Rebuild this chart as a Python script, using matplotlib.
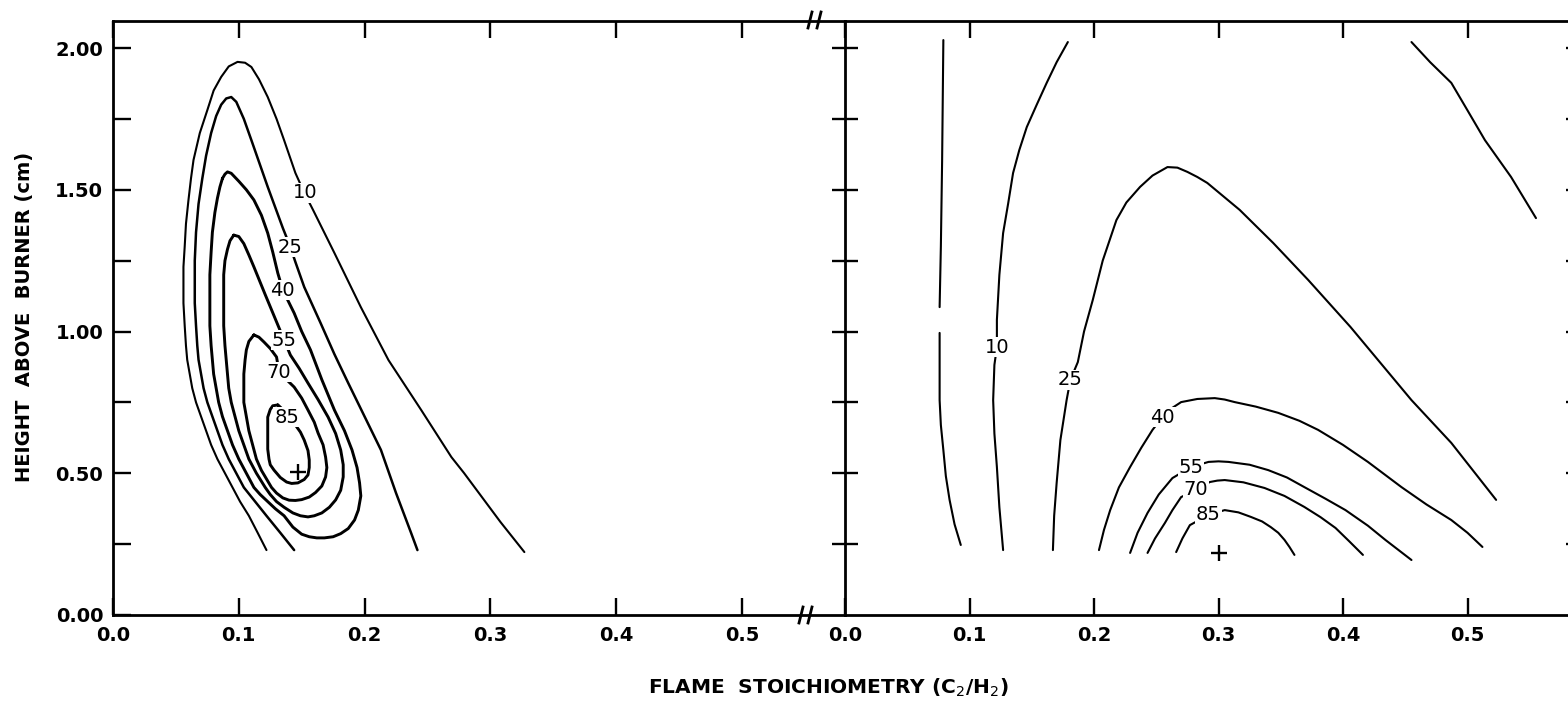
import matplotlib
matplotlib.use("Agg")
import matplotlib.pyplot as plt
from matplotlib.lines import Line2D

plt.rcParams['font.family'] = ['DejaVu Sans']

# ---------------- data ----------------
x_ticks = [0.0, 0.1, 0.2, 0.3, 0.4, 0.5]
x_ticklabels = ["0.0", "0.1", "0.2", "0.3", "0.4", "0.5"]
y_major = [0.0, 0.5, 1.0, 1.5, 2.0]
y_major_labels = ["0.00", "0.50", "1.00", "1.50", "2.00"]
y_minor = [0.25, 0.75, 1.25, 1.75]

# left panel contours (x = C2/H2, y = height cm)
L10 = [(0.122,0.229),(0.115,0.29),(0.108,0.35),(0.101,0.40),(0.095,0.45),(0.089,0.50),(0.083,0.55),
       (0.078,0.60),(0.074,0.65),(0.070,0.70),(0.066,0.75),(0.063,0.80),(0.061,0.85),(0.059,0.90),
       (0.058,0.95),(0.057,1.02),(0.056,1.10),(0.056,1.17),(0.056,1.228),(0.057,1.30),(0.058,1.38),
       (0.060,1.464),(0.062,1.54),(0.064,1.605),(0.069,1.70),(0.075,1.781),(0.080,1.85),(0.086,1.898),
       (0.092,1.935),(0.099,1.951),(0.105,1.948),(0.110,1.933),(0.116,1.89),(0.123,1.827),(0.130,1.75),
       (0.136,1.675),(0.145,1.559),(0.152,1.49),(0.159,1.429),(0.176,1.277),(0.197,1.086),(0.219,0.899),
       (0.245,0.723),(0.269,0.557),(0.279,0.501),(0.308,0.328),(0.327,0.222)]
L25 = [(0.144,0.229),(0.133,0.29),(0.122,0.35),(0.113,0.40),(0.104,0.45),(0.098,0.50),(0.092,0.55),
       (0.087,0.60),(0.083,0.65),(0.079,0.70),(0.075,0.75),(0.072,0.80),(0.070,0.85),(0.068,0.90),
       (0.067,0.95),(0.066,1.02),(0.065,1.10),(0.065,1.18),(0.065,1.25),(0.066,1.35),(0.068,1.45),
       (0.071,1.54),(0.074,1.62),(0.078,1.70),(0.082,1.76),(0.086,1.80),(0.090,1.822),(0.094,1.827),
       (0.098,1.81),(0.104,1.75),(0.110,1.675),(0.123,1.510),(0.135,1.365),(0.141,1.298),(0.145,1.245),
       (0.152,1.157),(0.165,1.030),(0.176,0.92),(0.187,0.818),(0.200,0.70),(0.213,0.582),(0.225,0.43),
       (0.237,0.289),(0.242,0.229)]
L40 = [(0.087,1.54),(0.089,1.555),(0.091,1.563),(0.094,1.558),(0.100,1.53),(0.106,1.50),(0.112,1.464),
       (0.118,1.41),(0.123,1.347),(0.127,1.28),(0.131,1.206),(0.135,1.146),(0.144,1.065),(0.150,1.00),
       (0.157,0.935),(0.166,0.83),(0.176,0.723),(0.184,0.65),(0.190,0.582),(0.194,0.52),(0.196,0.466),
       (0.197,0.42),(0.195,0.370),(0.192,0.335),(0.187,0.305),(0.181,0.287),(0.175,0.276),(0.168,0.272),
       (0.162,0.272),(0.156,0.276),(0.150,0.285),(0.143,0.31),(0.136,0.35),(0.129,0.375),(0.123,0.40),
       (0.117,0.425),(0.112,0.45),(0.106,0.50),(0.100,0.55),(0.095,0.60),(0.091,0.65),(0.087,0.70),
       (0.084,0.75),(0.082,0.80),(0.080,0.85),(0.079,0.90),(0.078,0.95),(0.077,1.02),(0.077,1.10),
       (0.077,1.20),(0.078,1.28),(0.079,1.35),(0.081,1.42),(0.083,1.47),(0.085,1.51),(0.087,1.54)]
L55 = [(0.096,1.340),(0.100,1.335),(0.104,1.31),(0.108,1.27),(0.112,1.228),(0.121,1.13),(0.130,1.034),
       (0.136,0.970),(0.141,0.917),(0.148,0.87),(0.155,0.818),(0.163,0.76),(0.171,0.698),(0.177,0.64),
       (0.181,0.582),(0.183,0.53),(0.183,0.487),(0.181,0.44),(0.177,0.406),(0.172,0.38),(0.166,0.360),
       (0.160,0.35),(0.155,0.346),(0.149,0.35),(0.143,0.36),(0.136,0.38),(0.130,0.40),(0.125,0.425),
       (0.121,0.45),(0.114,0.50),(0.108,0.55),(0.104,0.60),(0.100,0.65),(0.097,0.70),(0.094,0.75),
       (0.092,0.80),(0.091,0.85),(0.090,0.90),(0.089,0.95),(0.088,1.02),(0.088,1.10),(0.088,1.20),
       (0.089,1.25),(0.091,1.29),(0.093,1.32),(0.096,1.340)]
L70 = [(0.112,0.988),(0.116,0.980),(0.120,0.963),(0.125,0.94),(0.130,0.910),(0.132,0.857),(0.138,0.83),
       (0.144,0.804),(0.150,0.765),(0.155,0.723),(0.160,0.68),(0.163,0.642),(0.167,0.60),(0.169,0.557),
       (0.170,0.52),(0.169,0.487),(0.166,0.455),(0.161,0.432),(0.156,0.416),(0.150,0.407),(0.145,0.404),
       (0.140,0.405),(0.135,0.413),(0.130,0.43),(0.126,0.45),(0.122,0.48),(0.118,0.51),(0.114,0.55),
       (0.111,0.60),(0.108,0.65),(0.106,0.70),(0.104,0.75),(0.104,0.80),(0.104,0.85),(0.105,0.90),
       (0.106,0.935),(0.108,0.965),(0.112,0.988)]
L85 = [(0.131,0.741),(0.135,0.725),(0.138,0.70),(0.142,0.685),(0.145,0.670),(0.149,0.645),(0.152,0.617),
       (0.155,0.58),(0.156,0.547),(0.156,0.52),(0.155,0.494),(0.152,0.478),(0.147,0.466),(0.142,0.464),
       (0.138,0.469),(0.133,0.485),(0.128,0.511),(0.125,0.53),(0.124,0.55),(0.123,0.585),(0.123,0.62),
       (0.123,0.66),(0.123,0.698),(0.125,0.725),(0.127,0.738),(0.131,0.741)]
left_levels = ["10", "25", "40", "55", "70", "85"]
left_label_pos = [(0.153,1.489),(0.141,1.298),(0.135,1.146),(0.136,0.970),(0.132,0.857),(0.138,0.698)]
left_max = (0.147, 0.504)

# right panel contours
RA_upper = [(0.079,2.028),(0.078,1.6),(0.077,1.3),(0.076,1.086)]
RA_lower = [(0.076,0.995),(0.076,0.88),(0.076,0.758),(0.077,0.67),(0.079,0.582),(0.081,0.49),
            (0.084,0.406),(0.088,0.32),(0.093,0.247)]
R10 = [(0.179,2.021),(0.170,1.95),(0.162,1.877),(0.154,1.80),(0.146,1.721),(0.140,1.64),(0.135,1.559),
       (0.131,1.45),(0.127,1.347),(0.124,1.20),(0.122,1.041),(0.122,0.945),(0.120,0.882),(0.119,0.758),
       (0.120,0.64),(0.122,0.522),(0.124,0.38),(0.127,0.229)]
R25 = [(0.167,0.229),(0.168,0.35),(0.170,0.466),(0.173,0.617),(0.178,0.758),(0.181,0.829),(0.187,0.892),
       (0.192,1.00),(0.199,1.111),(0.207,1.25),(0.218,1.393),(0.226,1.455),(0.237,1.510),(0.247,1.55),
       (0.259,1.580),(0.267,1.578),(0.275,1.563),(0.283,1.545),(0.291,1.524),(0.317,1.429),(0.344,1.312),
       (0.372,1.182),(0.406,1.016),(0.455,0.758),(0.487,0.607),(0.523,0.406)]
R40 = [(0.204,0.229),(0.208,0.30),(0.213,0.370),(0.220,0.45),(0.229,0.522),(0.238,0.59),(0.247,0.653),
       (0.255,0.698),(0.262,0.728),(0.270,0.751),(0.283,0.762),(0.297,0.765),(0.305,0.760),(0.313,0.751),
       (0.330,0.735),(0.348,0.713),(0.365,0.685),(0.380,0.653),(0.400,0.600),(0.420,0.540),(0.447,0.451),
       (0.467,0.390),(0.487,0.335),(0.500,0.29),(0.512,0.240)]
R55 = [(0.229,0.219),(0.235,0.29),(0.243,0.360),(0.252,0.425),(0.263,0.483),(0.278,0.522),(0.292,0.540),
       (0.300,0.542),(0.308,0.540),(0.325,0.530),(0.340,0.511),(0.355,0.485),(0.369,0.451),(0.386,0.41),
       (0.402,0.370),(0.420,0.315),(0.434,0.265),(0.455,0.194)]
R70 = [(0.243,0.219),(0.249,0.27),(0.257,0.325),(0.263,0.37),(0.270,0.416),(0.282,0.441),(0.293,0.469),
       (0.299,0.474),(0.305,0.476),(0.320,0.468),(0.337,0.448),(0.353,0.42),(0.369,0.381),(0.382,0.345),
       (0.394,0.307),(0.405,0.26),(0.416,0.212)]
R85 = [(0.266,0.222),(0.271,0.27),(0.277,0.317),(0.292,0.353),(0.305,0.370),(0.316,0.362),(0.326,0.346),
       (0.335,0.33),(0.342,0.310),(0.348,0.29),(0.353,0.265),(0.357,0.24),(0.361,0.212)]
RH = [(0.455,2.021),(0.470,1.95),(0.487,1.877),(0.500,1.78),(0.514,1.675),(0.535,1.545),(0.555,1.400)]
right_levels = ["10", "25", "40", "55", "70", "85"]
right_label_pos = [(0.122,0.945),(0.181,0.829),(0.255,0.698),(0.278,0.522),(0.282,0.441),(0.292,0.353)]
right_max = (0.300, 0.219)

# ---------------- figure ----------------
W, H = 1568, 706
fig = plt.figure(figsize=(W/100, H/100), dpi=100)

def px_rect(x0, y_top, x1, y_bot):
    return [x0/W, 1 - y_bot/H, (x1-x0)/W, (y_bot-y_top)/H]

axL = fig.add_axes(px_rect(113, 21, 845, 615))
axR = fig.add_axes(px_rect(845, 21, 1579, 615))

YMAX = 594/283.5
axL.set_xlim(0, 732/1258)
axR.set_xlim(0, 734/1245)
tick_font = dict(fontsize=14, fontweight='bold')
for ax in (axL, axR):
    ax.set_ylim(0, YMAX)
    for s in ax.spines.values():
        s.set_linewidth(2.0)
    ax.set_xticks(x_ticks)
    ax.set_xticklabels(x_ticklabels, **tick_font)
    ax.tick_params(axis='x', which='both', direction='in', top=True, bottom=True,
                   length=12.5, width=1.7, pad=8)
axL.spines['right'].set_visible(False)
axR.spines['right'].set_visible(False)

axL.set_yticks(y_major)
axL.set_yticklabels(y_major_labels, **tick_font)
axL.set_yticks(y_minor, minor=True)
axL.tick_params(axis='y', which='both', direction='in', left=True, right=False,
                length=13, width=1.7, pad=7)

axR.set_yticks(y_minor + [0.5, 1.0, 1.5, 2.0])
axR.set_yticklabels([])
axR.tick_params(axis='y', which='both', direction='inout', left=True, right=True,
                length=19, width=1.7)

def draw(ax, pts, lw):
    xs = [p[0] for p in pts]
    ys = [p[1] for p in pts]
    ax.plot(xs, ys, color='black', lw=lw, solid_capstyle='round', solid_joinstyle='round')

draw(axL, L10, 1.5)
draw(axL, L25, 1.8)
for c in (L40, L55, L70, L85):
    draw(axL, c, 2.1)
for c in (RA_upper, RA_lower, R10, R25, R40, R55, R70, R85, RH):
    draw(axR, c, 1.5)

for ax, labs, pos in ((axL, left_levels, left_label_pos), (axR, right_levels, right_label_pos)):
    for t, (x, y) in zip(labs, pos):
        ax.text(x, y, t, fontsize=14, ha='center', va='center',
                bbox=dict(facecolor='white', edgecolor='none', pad=0.6))

for ax, (x, y) in ((axL, left_max), (axR, right_max)):
    ax.plot([x], [y], marker='+', color='black', markersize=12, mew=1.7)

# axis break marks
def brk(xc, yc):
    for dx in (-5, 4):
        fig.add_artist(Line2D([(xc+dx-2)/W, (xc+dx+2)/W], [1-(yc+8)/H, 1-(yc-8)/H],
                              color='black', lw=2.0))
brk(815, 20)
brk(806, 615)

fig.text(25/W, 1-317/H, "HEIGHT  ABOVE  BURNER (cm)", rotation=90, fontsize=14,
         fontweight='bold', ha='center', va='center')
fig.text(828/W, 1-688/H, "FLAME  STOICHIOMETRY (C$_2$/H$_2$)", fontsize=14.5,
         fontweight='bold', ha='center', va='center')

fig.savefig("out.png", dpi=100)
